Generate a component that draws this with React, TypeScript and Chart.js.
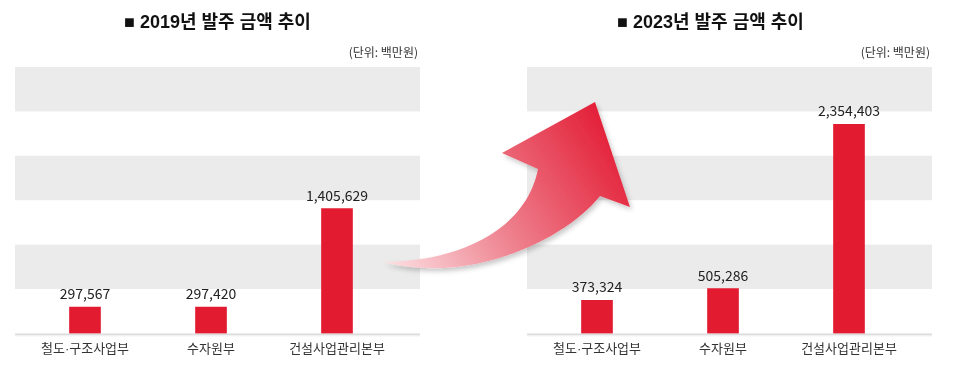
import React, { useEffect, useRef } from "react";
import { Chart, registerables } from "chart.js";

Chart.register(...registerables);

const categories = ["철도·구조사업부", "수자원부", "건설사업관리본부"];
const values2019 = [297567, 297420, 1405629];
const values2023 = [373324, 505286, 2354403];
const yMax = 3000000;
const yStep = 500000;
const title2019 = "■ 2019년 발주 금액 추이";
const title2023 = "■ 2023년 발주 금액 추이";
const unitLabel = "(단위: 백만원)";

const FONT = "'Liberation Sans', 'Noto Sans CJK KR', sans-serif";
const KFONT = "'Noto Sans CJK KR', sans-serif";
const BAR_RED = "#e31b31";
const BAND_GRAY = "#ebebeb";
const EXT_L = 7;
const EXT_R = 20;

const bandsPlugin = {
  id: "bands",
  beforeDatasetsDraw(chart: any) {
    const { ctx, chartArea, scales } = chart;
    const y = scales.y;
    const left = chartArea.left - EXT_L;
    const right = chartArea.right + EXT_R;
    ctx.save();
    let i = 0;
    for (let v = 0; v < yMax; v += yStep) {
      if (i % 2 === 1) {
        const y0 = y.getPixelForValue(v);
        const y1 = y.getPixelForValue(v + yStep);
        ctx.fillStyle = BAND_GRAY;
        ctx.fillRect(left, y1, right - left, y0 - y1);
      }
      i++;
    }
    const base = y.getPixelForValue(0);
    ctx.fillStyle = "#dedede";
    ctx.fillRect(left, base, right - left, 2);
    ctx.fillStyle = "#efefef";
    ctx.fillRect(left, base + 2, right - left, 1);
    ctx.restore();
  },
};

const valueLabelPlugin = {
  id: "valueLabels",
  afterDatasetsDraw(chart: any) {
    const { ctx } = chart;
    const meta = chart.getDatasetMeta(0);
    const data = chart.data.datasets[0].data as number[];
    ctx.save();
    ctx.font = `14px ${KFONT}`;
    ctx.fillStyle = "#222";
    ctx.textAlign = "center";
    ctx.textBaseline = "alphabetic";
    meta.data.forEach((el: any, i: number) => {
      ctx.fillText(data[i].toLocaleString("en-US"), el.x, el.y - 8);
    });
    ctx.restore();
  },
};

function makeHeaderPlugin(title: string, shift: number) {
  return {
    id: "header",
    afterDraw(chart: any) {
      const { ctx, chartArea } = chart;
      const left = chartArea.left - EXT_L;
      const right = chartArea.right + EXT_R;
      ctx.save();
      ctx.fillStyle = "#111";
      ctx.textAlign = "center";
      ctx.textBaseline = "middle";
      ctx.font = `bold 18px ${FONT}`;
      ctx.fillText(title, (left + right) / 2 + shift, 23);
      ctx.fillStyle = "#333";
      ctx.textAlign = "right";
      ctx.font = `12px ${KFONT}`;
      ctx.fillText(unitLabel, right - 2, 52);
      ctx.restore();
    },
  };
}

function makeConfig(values: number[], title: string, shift: number): any {
  return {
    type: "bar",
    data: {
      labels: categories,
      datasets: [
        {
          data: values,
          backgroundColor: BAR_RED,
          barThickness: 31,
          borderWidth: 0,
        },
      ],
    },
    options: {
      responsive: false,
      animation: false,
      events: [],
      layout: { padding: { left: EXT_L, right: EXT_R, bottom: 7, top: 67 } },
      plugins: {
        legend: { display: false },
        tooltip: { enabled: false },
        title: { display: false },
      },
      scales: {
        x: {
          grid: { display: false, drawTicks: false },
          border: { display: false },
          ticks: { color: "#333", font: { family: FONT, size: 13 }, padding: 8 },
        },
        y: {
          display: false,
          min: 0,
          max: yMax,
          ticks: { stepSize: yStep },
        },
      },
    },
    plugins: [bandsPlugin, valueLabelPlugin, makeHeaderPlugin(title, shift)],
  };
}

function BarChart({ values, title, shift, left }: any) {
  const ref = useRef<HTMLCanvasElement | null>(null);
  const width = 405;
  useEffect(() => {
    if (!ref.current) return;
    const chart = new Chart(ref.current, makeConfig(values, title, shift));
    return () => chart.destroy();
  }, [values, title, shift]);
  return (
    <div style={{ position: "absolute", left, top: 0, width, height: 372 }}>
      <canvas ref={ref} width={width} height={372} style={{ width, height: 372, display: "block" }} />
    </div>
  );
}

function Arrow() {
  return (
    <svg
      width={960}
      height={372}
      style={{ position: "absolute", left: 0, top: 0, pointerEvents: "none" }}
    >
      <defs>
        <linearGradient id="arrowGrad" gradientUnits="userSpaceOnUse" x1="385" y1="262" x2="610" y2="120">
          <stop offset="0" stopColor="#fcdfe2" />
          <stop offset="0.45" stopColor="#ee808d" />
          <stop offset="1" stopColor="#e31d36" />
        </linearGradient>
        <filter id="arrowShadow" x="-10%" y="-10%" width="130%" height="130%">
          <feDropShadow dx="2" dy="3" stdDeviation="2.5" floodColor="#000" floodOpacity="0.22" />
        </filter>
      </defs>
      <path
        d="M 383 262 C 450 262, 525 235, 538 169 L 502 153 L 595 102 L 630 207 L 600 196 C 565 240, 470 285, 383 262 Z"
        fill="url(#arrowGrad)"
        filter="url(#arrowShadow)"
      />
    </svg>
  );
}

export default function App() {
  return (
    <div
      style={{
        position: "absolute",
        left: 0,
        top: 0,
        width: 960,
        height: 372,
        background: "#fff",
        overflow: "hidden",
      }}
    >
      <BarChart values={values2019} title={title2019} shift={0} left={15} />
      <BarChart values={values2023} title={title2023} shift={-19} left={527} />
      <Arrow />
    </div>
  );
}
